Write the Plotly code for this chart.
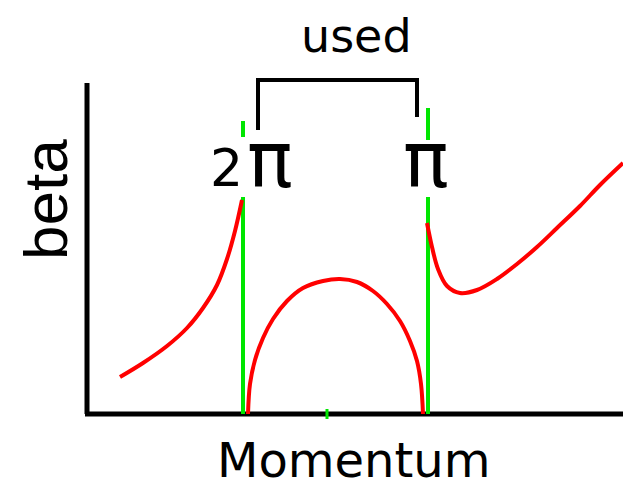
import plotly.graph_objects as go

# Data coordinates: x = momentum (arbitrary units), y = beta (arbitrary units)
# Branch 1 (left of 2π resonance)
b1_x = [33, 56, 80, 100, 116, 130, 140, 148, 155]
b1_y = [37, 51, 68, 86, 106, 129, 155, 183, 214]
# Branch 2 (stable region between 2π and π)
b2_x = [161, 163, 168, 176, 186, 200, 216, 236, 253, 270, 286, 300, 313, 323, 330, 334, 336]
b2_y = [0, 30, 54, 76, 95, 113, 126, 133, 135, 132, 123, 110, 93, 73, 53, 30, 0]
# Branch 3 (right of π resonance)
b3_x = [340, 345, 351, 360, 373, 390, 410, 430, 450, 470, 493, 513, 536]
b3_y = [191, 167, 145, 128, 121, 124, 135, 150, 167, 186, 208, 229, 251]

# Resonance markers (green)
res_left_x = 156
res_right_x = 341
res_left_y = [0, 217, None, 277, 293]
res_right_y = [0, 217, None, 274, 306]
mid_tick_x = 240
mid_tick_y = [-5, 5]

# Axes extents
axis_v_y = [0, 331]
axis_h_x = [-2, 536]

# "used" bracket
br_x = [171, 171, 330, 330]
br_y = [284, 334, 334, 297]

RED = "#ff0000"
GREEN = "#00e600"
BLACK = "#000000"

fig = go.Figure()

# axes
fig.add_trace(go.Scatter(x=[0, 0], y=axis_v_y, mode="lines",
                         line=dict(color=BLACK, width=5), hoverinfo="skip"))
fig.add_trace(go.Scatter(x=axis_h_x, y=[0, 0], mode="lines",
                         line=dict(color=BLACK, width=5), hoverinfo="skip"))

# green resonance lines
fig.add_trace(go.Scatter(x=[res_left_x] * len(res_left_y), y=res_left_y, mode="lines",
                         line=dict(color=GREEN, width=4), connectgaps=False, hoverinfo="skip"))
fig.add_trace(go.Scatter(x=[res_right_x] * len(res_right_y), y=res_right_y, mode="lines",
                         line=dict(color=GREEN, width=4), connectgaps=False, hoverinfo="skip"))
fig.add_trace(go.Scatter(x=[mid_tick_x] * 2, y=mid_tick_y, mode="lines",
                         line=dict(color=GREEN, width=3), hoverinfo="skip"))

# red beta branches
for bx, by in [(b1_x, b1_y), (b2_x, b2_y), (b3_x, b3_y)]:
    fig.add_trace(go.Scatter(x=bx, y=by, mode="lines",
                             line=dict(color=RED, width=4, shape="spline", smoothing=1.0),
                             hoverinfo="skip"))

# bracket
fig.add_trace(go.Scatter(x=br_x, y=br_y, mode="lines",
                         line=dict(color=BLACK, width=4), hoverinfo="skip"))

font_main = "DejaVu Sans"
annotations = [
    dict(x=269, y=378, text="used", font=dict(family=font_main, size=46, color=BLACK)),
    dict(x=267, y=-46, text="Momentum", font=dict(family=font_main, size=48, color=BLACK)),
    dict(x=-42, y=214, text="beta", textangle=-90,
         font=dict(family="Liberation Sans Narrow, Liberation Sans", size=62, color=BLACK)),
    dict(x=139, y=246, text="2", font=dict(family=font_main, size=52, color=BLACK)),
    dict(x=183, y=254, text="π", font=dict(family=font_main, size=76, color=BLACK)),
    dict(x=339, y=254, text="π", font=dict(family=font_main, size=76, color=BLACK)),
]
for a in annotations:
    a.update(xref="x", yref="y", showarrow=False, xanchor="center", yanchor="middle")

fig.update_layout(
    width=623, height=493,
    margin=dict(l=0, r=0, t=0, b=0),
    paper_bgcolor="white", plot_bgcolor="white",
    showlegend=False,
    xaxis=dict(range=[-87, 536], visible=False, fixedrange=True),
    yaxis=dict(range=[-79, 414], visible=False, fixedrange=True),
    annotations=annotations,
)

fig.write_html("out.html", config={"displayModeBar": False},
               post_script="document.body.style.margin='0';document.body.style.padding='0';")
